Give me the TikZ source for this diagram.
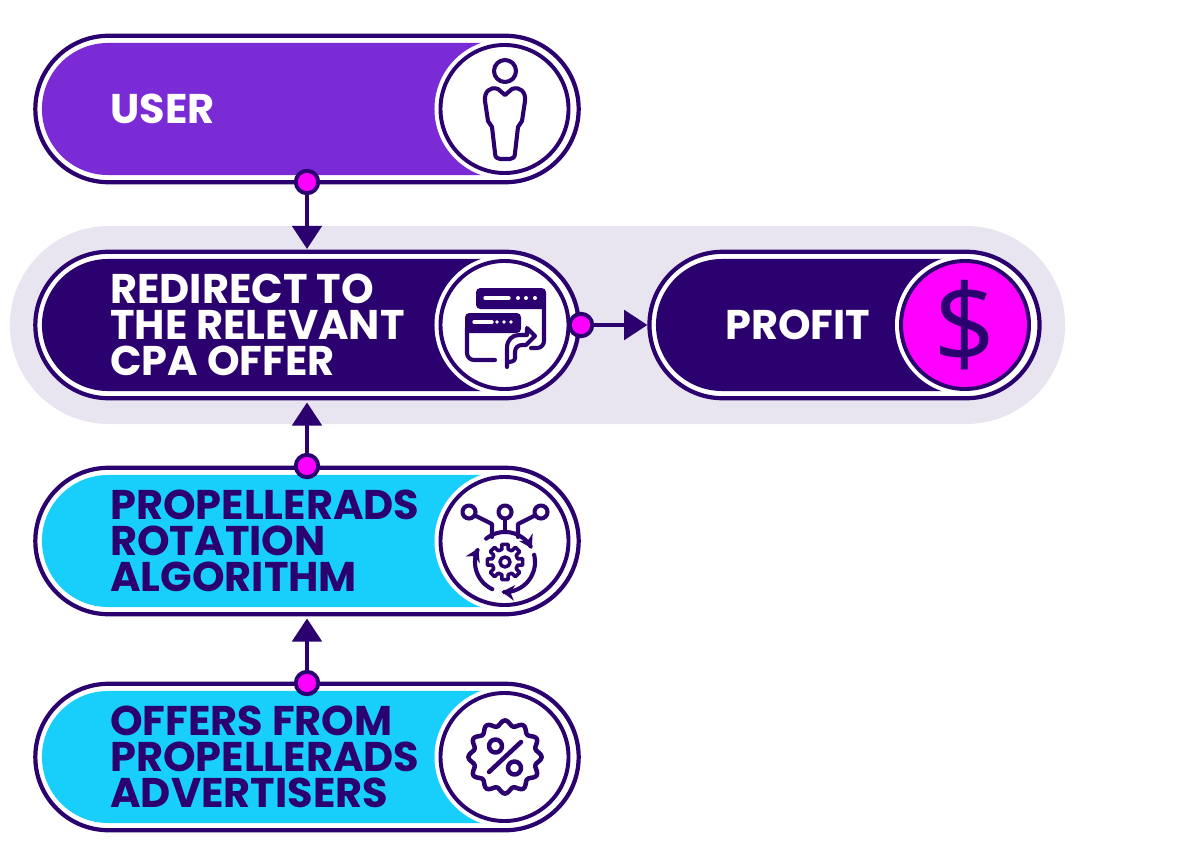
\documentclass[tikz,border=0pt]{standalone}
\usepackage{fontspec}
\setmainfont{Poppins}
\newfontfamily\dollarfont{Open Sans}
\usetikzlibrary{arrows.meta,shapes.misc}
\definecolor{propdark}{HTML}{2B006F}
\definecolor{proppurple}{HTML}{7A2BD6}
\definecolor{propcyan}{HTML}{18CFFB}
\definecolor{propband}{HTML}{E8E5F1}
\definecolor{propmagenta}{HTML}{FF00FF}
\tikzset{
  pill/.style={rounded rectangle, draw=propdark, line width=3pt, fill=white, outer sep=0pt, inner sep=0pt, minimum height=3.66cm},
  pillfill/.style={rounded rectangle, rounded rectangle right arc=none, outer sep=0pt, inner sep=0pt, minimum height=3.3cm},
  halo/.style={circle, fill=white, inner sep=0pt, outer sep=0pt, minimum size=3.5cm},
  disc/.style={circle, draw=propdark, line width=2.8pt, fill=white, inner sep=0pt, outer sep=0pt, minimum size=3.2cm},
  linkdot/.style={circle, draw=propdark, line width=2.8pt, fill=propmagenta, inner sep=0pt, outer sep=0pt, minimum size=0.56cm},
  link/.style={draw=propdark, line width=2.6pt, -{Triangle[length=16.5pt,width=21pt]}},
  label/.style={anchor=west, align=left, inner sep=0pt, font=\fontsize{29.5}{25.6}\selectfont\bfseries},
  icon/.style={draw=propdark, line width=2.9pt, line cap=round, line join=round},
  iconbar/.style={white, line width=2.4pt, line cap=round},
  icontip/.style={-{Stealth[length=9pt,width=11pt]}}
}
\begin{document}
\begin{tikzpicture}[x=0.025cm,y=-0.025cm]
  \useasboundingbox (0,0) rectangle (1200,866);
  % band
  \node[rounded rectangle, fill=propband, inner sep=0pt, minimum width=26.375cm, minimum height=4.95cm] (band) at (537.5,325) {};
  % pills
  \node[pill, minimum width=13.58cm] (user) at (307,109) {};
  \node[pill, minimum width=13.58cm] (redirect) at (307,325) {};
  \node[pill, minimum width=13.58cm] (algorithm) at (307,541) {};
  \node[pill, minimum width=13.58cm] (offers) at (307,757) {};
  \node[pill, minimum width=9.75cm] (profit) at (844.5,325) {};
  \node[pillfill, fill=proppurple, minimum width=11.575cm] (userfill) at (273.5,109) {};
  \node[pillfill, fill=propdark, minimum width=11.575cm] (redirectfill) at (273.5,325) {};
  \node[pillfill, fill=propcyan, minimum width=11.575cm] (algorithmfill) at (273.5,541) {};
  \node[pillfill, fill=propcyan, minimum width=11.575cm] (offersfill) at (273.5,757) {};
  \node[pillfill, fill=propdark, minimum width=7.725cm] (profitfill) at (810.5,325) {};
  % discs
  \foreach \n/\cx/\cy in {user/504.5/109, redirect/504.5/325, algorithm/504.5/541, offers/504.5/757, profit/965/325} {
    \node[halo] (\n halo) at (\cx,\cy) {};
  }
  \node[disc] (userdisc) at (504.5,109) {};
  \node[disc] (redirectdisc) at (504.5,325) {};
  \node[disc] (algorithmdisc) at (504.5,541) {};
  \node[disc] (offersdisc) at (504.5,757) {};
  \node[disc, fill=propmagenta] (profitdisc) at (965,325) {\fontsize{78}{78}\selectfont\dollarfont\textcolor{propdark}{\$}};
  % texts
  \node[label, white] (usertext) at (110,109) {USER};
  \node[label, white] (redirecttext) at (110,325) {REDIRECT TO\\THE RELEVANT\\CPA OFFER};
  \node[label, propdark] (algorithmtext) at (110,541) {PROPELLERADS\\ROTATION\\ALGORITHM};
  \node[label, propdark] (offerstext) at (110,757) {OFFERS FROM\\PROPELLERADS\\ADVERTISERS};
  \node[label, white] (profittext) at (725,325) {PROFIT};
  % user icon
  \draw[icon] (505,71) circle (11);
  \draw[icon] (505,95) -- (498,89) .. controls (490,86) and (484,92) .. (485,101) -- (488,121) -- (492,127) -- (495,153) .. controls (495,157) and (497,159) .. (500,159) -- (510,159) .. controls (513,159) and (515,157) .. (515,153) -- (518,127) -- (522,121) -- (525,101) .. controls (526,92) and (520,86) .. (512,89) -- cycle;
  % redirect icon
  \fill[propdark, rounded corners=3pt] (476,288) rectangle (546,309);
  \draw[icon, rounded corners=5pt] (544,305) -- (544,348) -- (531,348);
  \draw[iconbar] (485,298) -- (509,298);
  \foreach \x in {518,526,535} { \fill[white] (\x,298) circle (2); }
  \fill[white] (462,311) rectangle (523,335);
  \fill[propdark, rounded corners=3pt] (465,313) rectangle (521,333);
  \draw[icon, rounded corners=5pt] (467,328) -- (467,360) -- (495,360);
  \draw[iconbar] (474,322) -- (492,322);
  \foreach \x in {497,504,511} { \fill[white] (\x,322) circle (1.8); }
  \draw[icon, fill=white] (507,367) -- (507,348) .. controls (507,340) and (512,335) .. (519,335) -- (527,335) -- (527,328) -- (535,336) -- (526,345) -- (522,345) .. controls (518,345) and (515,348) .. (515,352) -- (515,358) .. controls (515,361) and (512,362) .. (507,362);
  % algorithm icon
  \foreach \x in {469,505,541} { \draw[icon] (\x,512) circle (6.5); }
  \draw[icon] (476,516) -- (492,524) -- (492,537);
  \draw[icon] (505,519) -- (505,532);
  \draw[icon] (534,516) -- (518,524) -- (518,537);
  \begin{scope}[shift={(505,562)}]
    \draw[icon, icontip] plot[domain=231:333, samples=30, smooth] (\x:30);
    \draw[icon, icontip] plot[domain=346:456, samples=30, smooth] (\x:30);
    \draw[icon, icontip] plot[domain=115:207, samples=30, smooth] (\x:30);
    \foreach \a in {0,45,...,315} {
      \draw[icon, line width=2.5pt] (\a-14:13) -- (\a-10:18) -- (\a+10:18) -- (\a+14:13) -- (\a+31:13);
    }
    \draw[icon, line width=2.5pt] (0,0) circle (5);
  \end{scope}
  % offers icon
  \begin{scope}[shift={(505,757)}]
    \draw[icon, line width=3.2pt] plot[domain=0:360, samples=121, smooth] (\x:{34+2.6*cos(12*\x)}) -- cycle;
    \draw[icon, line width=3.2pt] (-9.5,-11) circle (6.5);
    \draw[icon, line width=3.2pt] (9.5,11) circle (6.5);
    \draw[icon, line width=3.2pt] (16,-15) -- (-16,15);
  \end{scope}
  % dots and connectors
  \node[linkdot] (userdot) at (307,182) {};
  \node[linkdot] (redirectdot) at (581,325) {};
  \node[linkdot] (algorithmdot) at (307,466) {};
  \node[linkdot] (offersdot) at (307,683) {};
  \draw[link, shorten >=2pt] (userdot) -- (redirect.north);
  \draw[link, shorten >=1.5pt] (redirectdot) -- (profit.west);
  \draw[link, shorten >=3pt] (algorithmdot) -- (redirect.south);
  \draw[link, shorten >=3pt] (offersdot) -- (algorithm.south);
\end{tikzpicture}
\end{document}
